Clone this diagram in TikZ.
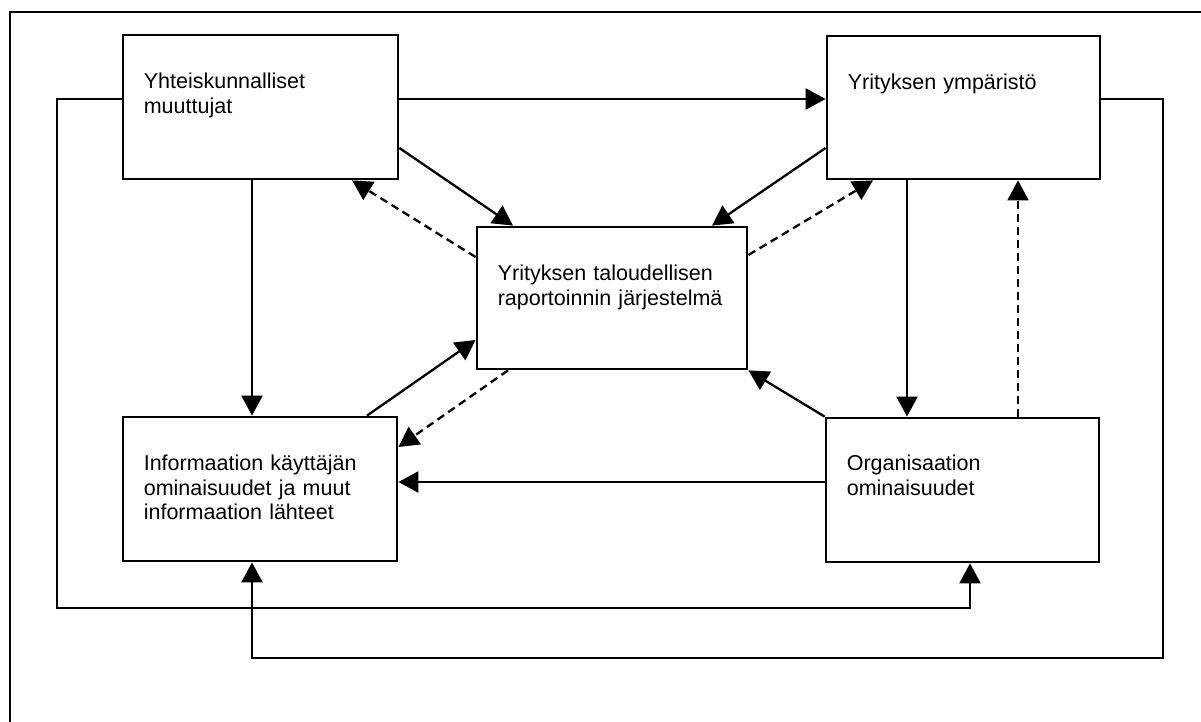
\documentclass[tikz,border=0pt]{standalone}
\usepackage{fontspec}
\setmainfont{Liberation Sans}
\usetikzlibrary{arrows.meta}
\begin{document}
\begin{tikzpicture}[x=1pt,y=-1pt,
  box/.style={draw,line width=2.8pt,rectangle,inner sep=0pt},
  lbl/.style={anchor=base west,align=left,text width=250pt,inner sep=0pt,font=\fontsize{21.5}{24.5}\selectfont},
  flow/.style={line width=2.3pt,-{Triangle[length=20pt,width=21pt]}},
  back/.style={flow,dash pattern=on 8pt off 5pt}]
\useasboundingbox (0,0) rectangle (1201,722);
\draw[line width=2.6pt] (10,722) -- (10,12) -- (1201,12);

% boxes
\node[box,minimum width=275pt,minimum height=144pt] (soc) at (260.5,107) {};
\node[box,minimum width=273pt,minimum height=143pt] (env) at (963.5,107.5) {};
\node[box,minimum width=270pt,minimum height=142pt] (rep) at (612,298) {};
\node[box,minimum width=274pt,minimum height=144pt] (usr) at (260,489) {};
\node[box,minimum width=273pt,minimum height=144pt] (org) at (962.5,490) {};

\node[lbl] (socT) at ([shift={(22,55)}]soc.north west) {Yhteiskunnalliset\\muuttujat};
\node[lbl] (envT) at ([shift={(22,55)}]env.north west) {Yrityksen ympäristö};
\node[lbl] (repT) at ([shift={(22,55)}]rep.north west) {Yrityksen taloudellisen\\raportoinnin järjestelmä};
\node[lbl] (usrT) at ([shift={(22,55)}]usr.north west) {Informaation käyttäjän\\ominaisuudet ja muut\\informaation lähteet};
\node[lbl] (orgT) at ([shift={(22,54)}]org.north west) {Organisaation\\ominaisuudet};

% outer loops
\draw[flow] (soc.east |- 0,99) -- (env.west |- 0,99);
\draw[flow] (soc.west |- 0,99) -- (57,99) -- (57,608) -- (970,608) -- (org.south -| 970,0);
\draw[flow] (env.east |- 0,99) -- (1163,99) -- (1163,658) -- (252,658) -- (usr.south -| 252,0);

% verticals and horizontal
\draw[flow] (soc.south -| 252,0) -- (usr.north -| 252,0);
\draw[flow] (env.south -| 907,0) -- (org.north -| 907,0);
\draw[back] (org.north -| 1018,0) -- (env.south -| 1018,0);
\draw[flow] (org.west |- 0,482) -- (usr.east |- 0,482);

% to and from the centre
\draw[flow] (soc.east |- 0,148) -- (rep.north -| 513,0);
\draw[back] (rep.west |- 0,257) -- (soc.south -| 352,0);
\draw[flow] (env.west |- 0,148) -- (rep.north -| 712,0);
\draw[back] (rep.east |- 0,255) -- (env.south -| 873,0);
\draw[flow] (usr.north -| 367,0) -- (rep.west |- 0,340);
\draw[back] (rep.south -| 508,0) -- (usr.east |- 0,447);
\draw[flow] (org.north west) -- (rep.south east);
\end{tikzpicture}
\end{document}
